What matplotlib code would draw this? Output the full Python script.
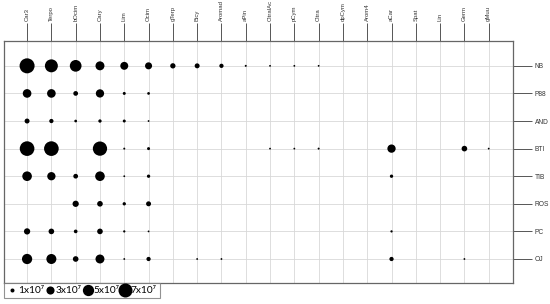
import numpy as np
import matplotlib.pyplot as plt

compounds = ['Car3', 'Terpo', 'bOcim', 'Cary', 'Lim', 'Ocim', 'gTerp', 'Bicy', 'Aromad', 'aPin',
             'CitralAc', 'pCym', 'Citra', 'dpCym', 'Arom4', 'aCar', 'Spat', 'Lin', 'Germ', 'gMuu']
samples = ['NB', 'P88', 'AND', 'BTI', 'TIB', 'ROS', 'PC', 'OJ']

# abundance in units of 1e7 (0 = not detected)
NB  = [7.8, 6.2, 5.3, 3.5, 2.9, 2.4, 1.55, 1.4, 1.1, 0.34, 0.25, 0.25, 0.25, 0, 0, 0, 0, 0, 0, 0]
P88 = [3.3, 3.3, 1.3, 3.1, 0.64, 0.55, 0, 0, 0, 0, 0, 0, 0, 0, 0, 0, 0, 0, 0, 0]
AND = [1.4, 1.1, 0.55, 0.75, 0.64, 0.25, 0, 0, 0, 0, 0, 0, 0, 0, 0, 0, 0, 0, 0, 0]
BTI = [7.5, 7.5, 0, 7.2, 0.34, 0.64, 0, 0, 0, 0, 0.22, 0.22, 0.34, 0, 0, 3.1, 0, 0, 1.7, 0.22]
TIB = [3.9, 3.1, 1.3, 3.9, 0.12, 0.75, 0, 0, 0, 0, 0, 0, 0, 0, 0, 0.75, 0, 0, 0, 0]
ROS = [0, 0, 2.0, 1.7, 0.75, 1.4, 0, 0, 0, 0, 0, 0, 0, 0, 0, 0, 0, 0, 0, 0]
PC  = [2.0, 1.7, 0.88, 1.7, 0.42, 0.25, 0, 0, 0, 0, 0, 0, 0, 0, 0, 0.42, 0, 0, 0, 0]
OJ  = [4.3, 4.15, 1.7, 3.5, 0.22, 1.1, 0, 0.22, 0.22, 0, 0, 0, 0, 0, 0, 1.1, 0, 0, 0.22, 0]
rows = [NB, P88, AND, BTI, TIB, ROS, PC, OJ]

legend_vals = [1, 3, 5, 7]
legend_labels = ['1x10\u2077', '3x10\u2077', '5x10\u2077', '7x10\u2077']


def msize(v):
    # marker diameter in px -> scatter area in pt^2
    d = 4.0 * np.power(v, 0.644) * 0.72
    d = np.maximum(d, 1.3)
    return d ** 2


fig = plt.figure(figsize=(5.5, 3.04), dpi=100)
ax = fig.add_axes([4 / 550, 1 - 283 / 304, 509 / 550, 242 / 304])

for i, vals in enumerate(rows):
    vals = np.array(vals, dtype=float)
    xs = np.arange(len(compounds))[vals > 0]
    ax.scatter(xs, np.full(len(xs), i), s=msize(vals[vals > 0]), color='black',
               linewidths=0, zorder=3)

ax.set_xlim(-0.95, len(compounds) - 1 + 1.0)
ax.set_ylim(len(samples) - 1 + 0.87, -0.9)

ax.set_xticks(range(len(compounds)))
ax.set_xticklabels(compounds, rotation=90, fontsize=4.3, family='Liberation Sans', color='#333333')
ax.set_yticks(range(len(samples)))
ax.set_yticklabels(samples, fontsize=4.8, family='Liberation Sans', color='#333333')
ax.xaxis.tick_top()
ax.yaxis.tick_right()
ax.tick_params(axis='x', length=13, width=0.7, color='#555555', pad=1.5)
ax.tick_params(axis='y', length=14, width=0.7, color='#555555', pad=1.5)

ax.grid(True, color='#d8d8d8', linewidth=0.6, zorder=0)
ax.set_axisbelow(True)
for sp in ax.spines.values():
    sp.set_color('#666666')
    sp.set_linewidth(0.9)

handles = [ax.scatter([], [], s=msize(v), color='black', linewidths=0) for v in legend_vals]
leg = ax.legend(handles, legend_labels, loc='upper left', bbox_to_anchor=(0, 0), ncol=4,
                frameon=True, fancybox=False, borderaxespad=0, handletextpad=0.05,
                columnspacing=0.1, handlelength=1.0, borderpad=0.3,
                prop={'family': 'Lato', 'size': 7.3})
leg.get_frame().set_edgecolor('#777777')
leg.get_frame().set_linewidth(0.8)

fig.savefig('out.png', dpi=100)
